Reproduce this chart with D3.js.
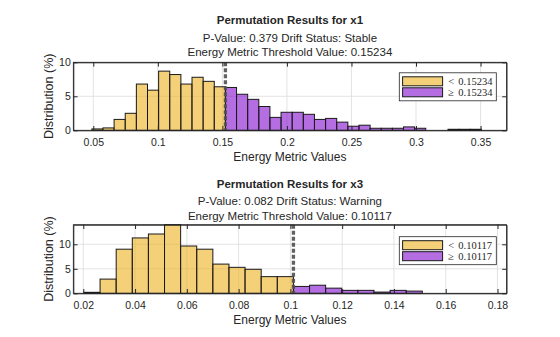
<!DOCTYPE html>
<html>
<head>
<meta charset="utf-8">
<script src="https://cdn.jsdelivr.net/npm/d3@7"></script>
<style>
  body { margin: 0; background: #fff; }
  svg { display: block; }
  text { font-family: "Liberation Sans", Arial, sans-serif; fill: #262626; }
</style>
</head>
<body>
<svg id="chart" width="560" height="337"></svg>
<script>
// ---- x1 ----
var x1Threshold = 0.15234;
var x1BinWidth = 0.008623;
var x1Below = [0.2, 0.35, 1.6, 2.5, 6.8, 5.9, 8.7, 8.2, 6.8, 7.8, 7.2, 6.4];
var x1Above = [6.3, 5.3, 4.55, 3.5, 1.9, 2.65, 2.65, 2.35, 1.6, 1.75, 1.2, 0.6, 0.75,
               0.3, 0.3, 0.3, 0.5, 0.3, 0, 0, 0.15, 0.15, 0.15];
var x1XLim = [0.0345, 0.3701];
var x1YLim = [0, 10];
var x1XTicks = [0.05, 0.1, 0.15, 0.2, 0.25, 0.3, 0.35];
var x1YTicks = [0, 5, 10];
var x1Lines = ["P-Value: 0.379 Drift Status: Stable", "Energy Metric Threshold Value: 0.15234"];

// ---- x3 ----
var x3Threshold = 0.10117;
var x3BinWidth = 0.006224;
var x3Below = [0.2, 2.9, 9.0, 11.3, 12.1, 14.0, 9.65, 9.0, 5.96, 5.3, 4.9, 3.4, 3.4];
var x3Above = [1.4, 1.65, 1.05, 0.6, 0.6, 0.25, 0.6, 0.45];
var x3XLim = [0.01614, 0.18348];
var x3YLim = [0, 14];
var x3XTicks = [0.02, 0.04, 0.06, 0.08, 0.1, 0.12, 0.14, 0.16, 0.18];
var x3YTicks = [0, 5, 10];
var x3Lines = ["P-Value: 0.082 Drift Status: Warning", "Energy Metric Threshold Value: 0.10117"];

var belowColor = "rgb(237,177,32)";
var aboveColor = "rgb(130,13,207)";

var svg = d3.select('#chart');

function panel(opt) {
  var left = 73.3, width = 433.2, top = opt.top, height = opt.height;
  var g = svg.append('g').attr('transform', 'translate(' + left + ',' + top + ')');

  var x = d3.scaleLinear().domain(opt.xlim).range([0, width]);
  var y = d3.scaleLinear().domain(opt.ylim).range([height, 0]);

  // titles
  svg.append('text').attr('x', left + width / 2).attr('y', opt.titleY)
    .attr('text-anchor', 'middle').style('font-size', '11.5px').style('font-weight', 'bold')
    .text(opt.title);
  opt.lines.forEach(function(t, i) {
    svg.append('text').attr('x', left + width / 2).attr('y', opt.titleY + 17.5 + i * 14.5)
      .attr('text-anchor', 'middle').style('font-size', '11.5px').text(t);
  });

  // grid
  g.selectAll('.gx').data(opt.xticks).enter().append('line')
    .attr('x1', x).attr('x2', x).attr('y1', 0).attr('y2', height)
    .attr('stroke', '#dcdcdc').attr('stroke-width', 0.8);
  g.selectAll('.gy').data(opt.yticks).enter().append('line')
    .attr('x1', 0).attr('x2', width).attr('y1', y).attr('y2', y)
    .attr('stroke', '#dcdcdc').attr('stroke-width', 0.8);

  // bins: edges hang off the threshold
  var bins = [];
  opt.below.forEach(function(v, i) {
    var x0 = opt.threshold - (opt.below.length - i) * opt.binWidth;
    bins.push({ x0: x0, x1: x0 + opt.binWidth, v: v, c: belowColor });
  });
  opt.above.forEach(function(v, i) {
    var x0 = opt.threshold + i * opt.binWidth;
    bins.push({ x0: x0, x1: x0 + opt.binWidth, v: v, c: aboveColor });
  });

  g.selectAll('rect.bar').data(bins.filter(function(d) { return d.v > 0; })).enter().append('rect')
    .attr('x', function(d) { return x(d.x0); })
    .attr('width', function(d) { return x(d.x1) - x(d.x0); })
    .attr('y', function(d) { return y(Math.min(d.v, opt.ylim[1])); })
    .attr('height', function(d) { return y(0) - y(Math.min(d.v, opt.ylim[1])); })
    .attr('fill', function(d) { return d.c; })
    .attr('fill-opacity', 0.6)
    .attr('stroke', '#1a1a1a').attr('stroke-width', 1);

  // threshold line
  g.append('line')
    .attr('x1', x(opt.threshold)).attr('x2', x(opt.threshold))
    .attr('y1', 0).attr('y2', height)
    .attr('stroke', '#505050').attr('stroke-opacity', 0.9)
    .attr('stroke-width', 3.3).attr('stroke-dasharray', '4,2');

  // axes with inward ticks
  var xa = g.append('g').attr('transform', 'translate(0,' + height + ')')
    .call(d3.axisBottom(x).tickValues(opt.xticks).tickSizeInner(-4.3).tickSizeOuter(0)
      .tickPadding(8).tickFormat(d3.format('')));
  var xt = g.append('g').call(d3.axisTop(x).tickValues(opt.xticks).tickSizeInner(-4.3)
      .tickSizeOuter(0).tickFormat(''));
  var ya = g.append('g').call(d3.axisLeft(y).tickValues(opt.yticks).tickSizeInner(-4.3)
      .tickSizeOuter(0).tickPadding(2.5).tickFormat(d3.format('')));
  var yr = g.append('g').attr('transform', 'translate(' + width + ',0)')
    .call(d3.axisRight(y).tickValues(opt.yticks).tickSizeInner(-4.3).tickSizeOuter(0).tickFormat(''));
  [xa, xt, ya, yr].forEach(function(a) {
    a.selectAll('path').attr('stroke', '#262626');
    a.selectAll('line').attr('stroke', '#262626');
    a.selectAll('text').style('font-size', '10.5px').style('font-family', '"Liberation Sans", Arial, sans-serif')
      .attr('fill', '#262626');
  });

  // axis labels
  g.append('text').attr('x', width / 2).attr('y', height + 31)
    .attr('text-anchor', 'middle').style('font-size', '12px').text('Energy Metric Values');
  g.append('text').attr('transform', 'translate(-20.5,' + height / 2 + ') rotate(-90)')
    .attr('text-anchor', 'middle').style('font-size', '12.5px').text('Distribution (%)');

  // legend
  var lg = g.append('g').attr('transform', 'translate(' + (399.3 - left) + ',' + opt.legendY + ')');
  lg.append('rect').attr('width', 97).attr('height', 28)
    .attr('fill', '#fff').attr('stroke', '#262626').attr('stroke-width', 0.8);
  var items = [{ c: belowColor, s: '<' }, { c: aboveColor, s: '\u2265' }];
  items.forEach(function(it, i) {
    lg.append('rect').attr('x', 3.3).attr('y', 4 + i * 11).attr('width', 40).attr('height', 9)
      .attr('fill', it.c).attr('fill-opacity', 0.6).attr('stroke', '#1a1a1a').attr('stroke-width', 1);
    var t = lg.append('text').attr('y', 12 + i * 11)
      .style('font-family', '"Liberation Serif", "Times New Roman", serif').style('font-size', '10.5px');
    t.append('tspan').attr('x', 49).text(it.s);
    t.append('tspan').attr('x', 59).text(opt.threshold.toFixed(5));
  });

  // box
  g.append('rect').attr('width', width).attr('height', height)
    .attr('fill', 'none').attr('stroke', '#262626').attr('stroke-width', 0.8);
}

panel({
  top: 62.3, height: 68, titleY: 24, title: 'Permutation Results for x1', lines: x1Lines,
  threshold: x1Threshold, binWidth: x1BinWidth, below: x1Below, above: x1Above,
  xlim: x1XLim, ylim: x1YLim, xticks: x1XTicks, yticks: x1YTicks, legendY: 10.5
});
panel({
  top: 224.7, height: 68.6, titleY: 187.5, title: 'Permutation Results for x3', lines: x3Lines,
  threshold: x3Threshold, binWidth: x3BinWidth, below: x3Below, above: x3Above,
  xlim: x3XLim, ylim: x3YLim, xticks: x3XTicks, yticks: x3YTicks, legendY: 12
});
</script>
</body>
</html>
